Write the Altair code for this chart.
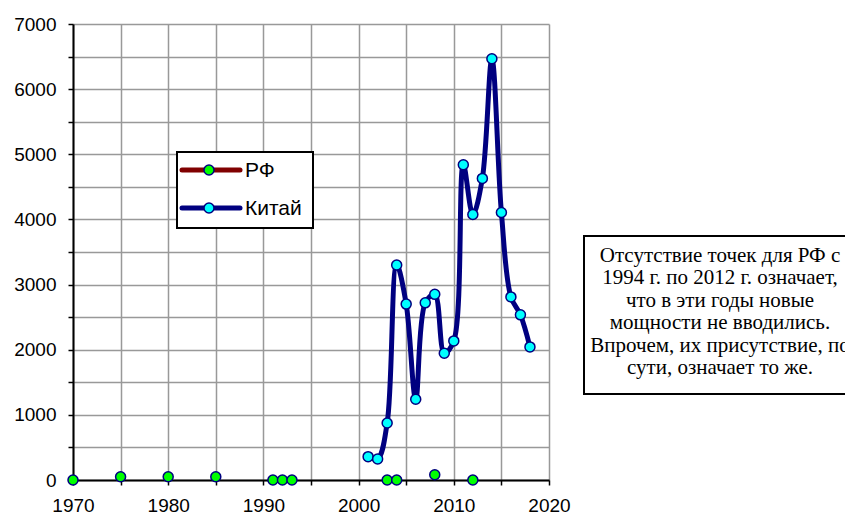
import altair as alt
import pandas as pd

cn_years = list(range(2001, 2019))
cn_values = [358, 323, 875, 3300, 2700, 1240, 2720, 2850, 1946, 2135,
             4840, 4076, 4630, 6467, 4106, 2811, 2535, 2043]
rf_years = [1970, 1975, 1980, 1985, 1991, 1992, 1993, 2003, 2004, 2008, 2012]
rf_values = [0, 50, 50, 50, 0, 0, 0, 0, 0, 80, 0]
x_ticks = list(range(1970, 2021, 5))
y_ticks = list(range(0, 7001, 500))
legend_labels = ["РФ", "Китай"]
note_lines = [
    "Отсутствие точек для РФ с",
    "1994 г. по 2012 г. означает,",
    "что в эти годы новые",
    "мощности не вводились.",
    "Впрочем, их присутствие, по",
    "сути, означает то же.",
]

cn = pd.DataFrame({"year": cn_years, "value": cn_values})
rf = pd.DataFrame({"year": rf_years, "value": rf_values})
one = pd.DataFrame({"a": [0]})

NAVY = "#000080"
x_scale = alt.Scale(domain=[1970, 2020], nice=False, zero=False)
y_scale = alt.Scale(domain=[0, 7000], nice=False)

common = dict(grid=True, gridColor="#999999", gridWidth=1.5, domainColor="black",
              domainWidth=2, tickColor="black", tickSize=5, tickWidth=1.5,
              labelFont="Liberation Sans", labelFontSize=19, labelColor="black",
              labelOverlap=False, labelFlush=False, title=None, zindex=0)
x_axis = alt.Axis(values=x_ticks, format="d", labelPadding=11,
                  labelExpr="datum.value % 10 == 0 ? datum.label : ''", **common)
y_axis = alt.Axis(values=y_ticks, format="d", labelPadding=12,
                  labelExpr="datum.value % 1000 == 0 ? datum.label : ''", **common)

X = alt.X("year:Q", scale=x_scale, axis=x_axis)
Y = alt.Y("value:Q", scale=y_scale, axis=y_axis)

cn_line = alt.Chart(cn).mark_line(interpolate="catmull-rom", color=NAVY, strokeWidth=5).encode(x=X, y=Y)
cn_pts = alt.Chart(cn).mark_circle(size=100, color="#00ffff", stroke=NAVY, strokeWidth=1.5, opacity=1).encode(x=X, y=Y)
rf_pts = alt.Chart(rf).mark_circle(size=100, color="#00ff00", stroke=NAVY, strokeWidth=1.5, opacity=1).encode(x=X, y=Y)

# legend
leg_box = alt.Chart(one).mark_rect(fill="white", stroke="black", strokeWidth=2).encode(
    x=alt.value(104), x2=alt.value(240), y=alt.value(128), y2=alt.value(204))
leg_rf_line = alt.Chart(one).mark_rule(color="#800000", strokeWidth=5, strokeCap="round").encode(
    x=alt.value(109), x2=alt.value(167), y=alt.value(146))
leg_cn_line = alt.Chart(one).mark_rule(color=NAVY, strokeWidth=5, strokeCap="round").encode(
    x=alt.value(109), x2=alt.value(167), y=alt.value(184))
leg_rf_pt = alt.Chart(one).mark_circle(size=100, color="#00ff00", stroke=NAVY, strokeWidth=1.5, opacity=1).encode(
    x=alt.value(136), y=alt.value(146))
leg_cn_pt = alt.Chart(one).mark_circle(size=100, color="#00ffff", stroke=NAVY, strokeWidth=1.5, opacity=1).encode(
    x=alt.value(136), y=alt.value(184))
leg_rf_txt = alt.Chart(one).mark_text(align="left", baseline="middle", font="Liberation Sans",
                                      fontSize=21, color="black").encode(
    x=alt.value(172), y=alt.value(147), text=alt.value(legend_labels[0]))
leg_cn_txt = alt.Chart(one).mark_text(align="left", baseline="middle", font="Liberation Sans",
                                      fontSize=21, color="black").encode(
    x=alt.value(172), y=alt.value(185), text=alt.value(legend_labels[1]))

# annotation
note_box = alt.Chart(one).mark_rect(fill="white", stroke="black", strokeWidth=2).encode(
    x=alt.value(511), x2=alt.value(900), y=alt.value(212), y2=alt.value(370))
note_txt = alt.Chart(one).mark_text(align="center", baseline="middle", font="Liberation Serif",
                                    fontSize=21, color="black", lineBreak="\n", lineHeight=22.4).encode(
    x=alt.value(647), y=alt.value(232), text=alt.value("\n".join(note_lines)))

chart = alt.layer(
    cn_line, cn_pts, rf_pts,
    leg_box, leg_rf_line, leg_cn_line, leg_rf_pt, leg_cn_pt, leg_rf_txt, leg_cn_txt,
    note_box, note_txt,
).properties(
    width=476, height=456,
    autosize=alt.AutoSizeParams(type="none"),
    padding={"left": 65, "top": 16, "right": 296, "bottom": 36},
    background="white",
).configure_view(stroke=None)

chart.save("out.html", embed_options={"renderer": "svg", "actions": False})
